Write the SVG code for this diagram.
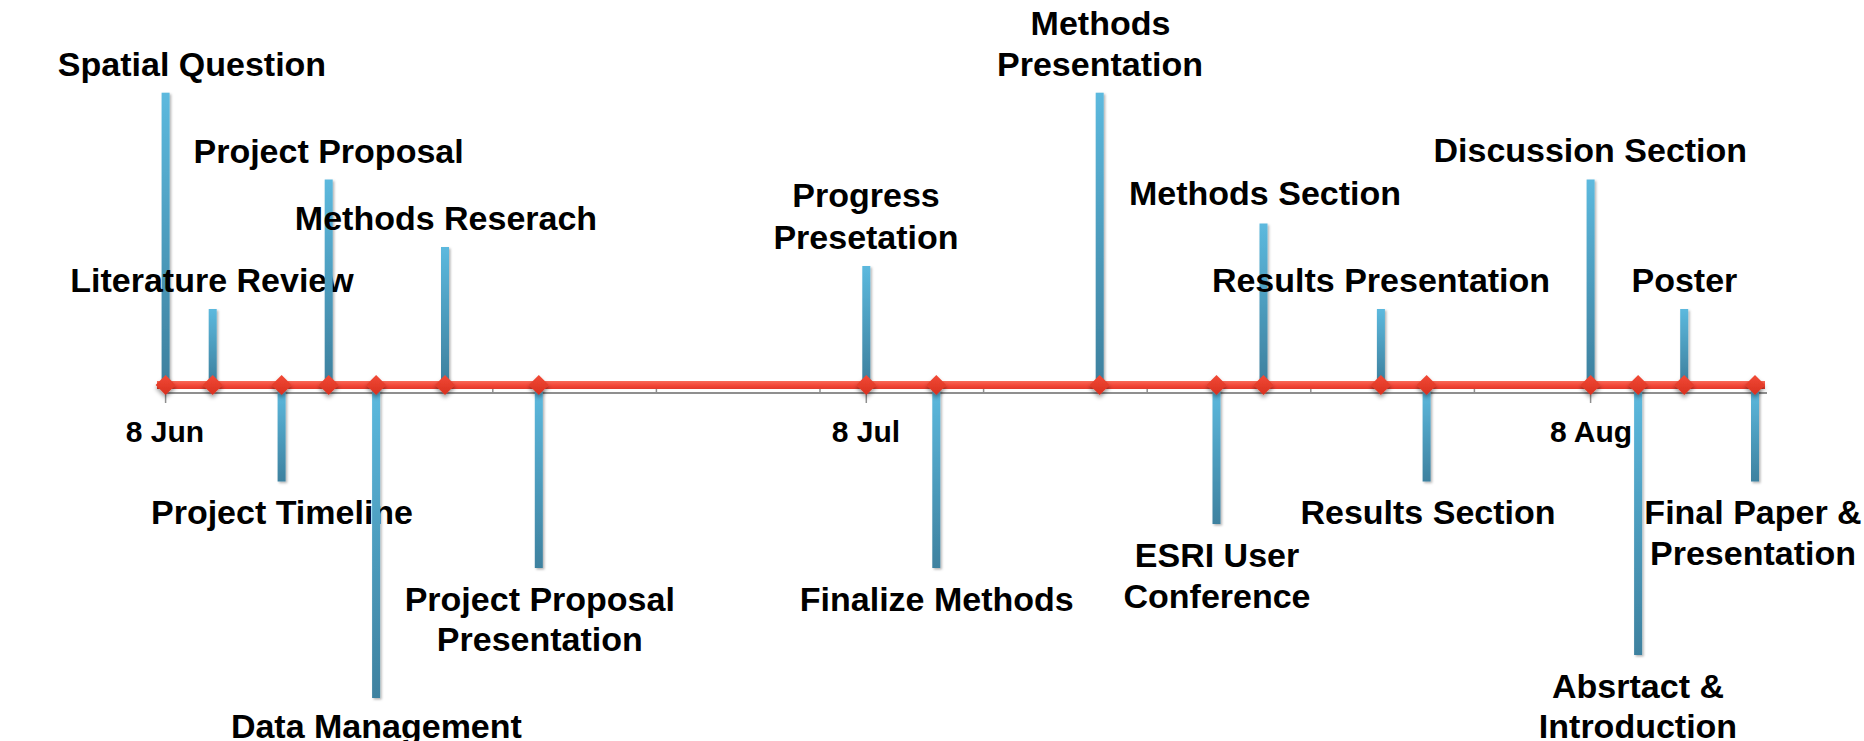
<svg xmlns="http://www.w3.org/2000/svg" width="1864" height="741" viewBox="0 0 1864 741">
  <style>
    .lbl { font-family: "Liberation Sans", Arial, sans-serif; font-weight: bold; font-size: 34px; fill: #000; text-anchor: middle; }
    .date { font-family: "Liberation Sans", Arial, sans-serif; font-weight: bold; font-size: 30px; fill: #000; text-anchor: middle; }
    .stem { fill: url(#stemGrad); filter: url(#stemShadow); }
    .mark { fill: url(#markGrad); filter: url(#markShadow); }
    .axis { stroke: #8f8f8f; stroke-width: 2; fill: none; }
    .tick { stroke: #8f8f8f; stroke-width: 1.5; }
  </style>
  <defs>
    <linearGradient id="stemGrad" x1="0" y1="0" x2="0" y2="1">
      <stop offset="0" stop-color="#5cb9de"/>
      <stop offset="1" stop-color="#3e819f"/>
    </linearGradient>
    <linearGradient id="lineGrad" x1="0" y1="0" x2="0" y2="1">
      <stop offset="0" stop-color="#f86a58"/>
      <stop offset="0.5" stop-color="#f4493a"/>
      <stop offset="1" stop-color="#e23828"/>
    </linearGradient>
    <linearGradient id="markGrad" x1="0" y1="0" x2="0" y2="1">
      <stop offset="0" stop-color="#f24a36"/>
      <stop offset="1" stop-color="#d8301f"/>
    </linearGradient>
    <filter id="stemShadow" x="-100%" y="-5%" width="300%" height="115%">
      <feDropShadow dx="1.5" dy="1.5" stdDeviation="1.2" flood-color="#000" flood-opacity="0.3"/>
    </filter>
    <filter id="markShadow" x="-50%" y="-50%" width="200%" height="220%">
      <feDropShadow dx="0" dy="3" stdDeviation="2" flood-color="#000" flood-opacity="0.4"/>
    </filter>
    <path id="diamond" d="M0,-10 L10,0 L0,10 L-10,0 Z"/>
  </defs>

  <rect width="1864" height="741" fill="#fff"/>

  <!-- date axis with weekly minor ticks and monthly major ticks -->
  <g id="connectors">
    <line class="axis" x1="165" y1="393" x2="1767" y2="393"/>
    <g class="tick">
      <line x1="329.2" y1="388" x2="329.2" y2="393"/>
      <line x1="492.8" y1="388" x2="492.8" y2="393"/>
      <line x1="656.4" y1="388" x2="656.4" y2="393"/>
      <line x1="820" y1="388" x2="820" y2="393"/>
      <line x1="983.6" y1="388" x2="983.6" y2="393"/>
      <line x1="1147.2" y1="388" x2="1147.2" y2="393"/>
      <line x1="1310.8" y1="388" x2="1310.8" y2="393"/>
      <line x1="1474.4" y1="388" x2="1474.4" y2="393"/>
      <line x1="1638" y1="388" x2="1638" y2="393"/>
      <line x1="165.6" y1="393" x2="165.6" y2="403"/>
      <line x1="866.3" y1="393" x2="866.3" y2="403"/>
      <line x1="1590.6" y1="393" x2="1590.6" y2="403"/>
    </g>
    <rect x="157" y="381" width="1608" height="8" fill="url(#lineGrad)"/>
  </g>

  <g id="axis-dates">
    <text class="date" x="165" y="442">8 Jun</text>
    <text class="date" x="866" y="442">8 Jul</text>
    <text class="date" x="1591" y="442">8 Aug</text>
  </g>

  <!-- milestones above the line -->
  <g id="spatial-question">
    <rect class="stem" x="161.6" y="92.7" width="8" height="288.3"/>
    <use href="#diamond" class="mark" x="165.6" y="385"/>
    <text class="lbl" x="192" y="76">Spatial Question</text>
  </g>
  <g id="literature-review">
    <rect class="stem" x="208.7" y="309" width="8" height="72"/>
    <use href="#diamond" class="mark" x="212.7" y="385"/>
    <text class="lbl" x="212" y="292">Literature Review</text>
  </g>
  <g id="project-proposal">
    <rect class="stem" x="324.7" y="179.5" width="8" height="201.5"/>
    <use href="#diamond" class="mark" x="328.7" y="385"/>
    <text class="lbl" x="328.6" y="162.5">Project Proposal</text>
  </g>
  <g id="methods-research">
    <rect class="stem" x="441" y="247" width="8" height="134"/>
    <use href="#diamond" class="mark" x="445" y="385"/>
    <text class="lbl" x="446" y="230">Methods Reserach</text>
  </g>
  <g id="progress-presentation">
    <rect class="stem" x="862.3" y="266" width="8" height="115"/>
    <use href="#diamond" class="mark" x="866.3" y="385"/>
    <text class="lbl" x="866" y="207">Progress</text>
    <text class="lbl" x="866" y="248.5">Presetation</text>
  </g>
  <g id="methods-presentation">
    <rect class="stem" x="1095.7" y="92.7" width="8" height="288.3"/>
    <use href="#diamond" class="mark" x="1099.7" y="385"/>
    <text class="lbl" x="1100.5" y="34.5">Methods</text>
    <text class="lbl" x="1100" y="75.5">Presentation</text>
  </g>
  <g id="methods-section">
    <rect class="stem" x="1259.5" y="223.5" width="8" height="157.5"/>
    <use href="#diamond" class="mark" x="1263.5" y="385"/>
    <text class="lbl" x="1265" y="204.5">Methods Section</text>
  </g>
  <g id="results-presentation">
    <rect class="stem" x="1376.9" y="309" width="8" height="72"/>
    <use href="#diamond" class="mark" x="1380.9" y="385"/>
    <text class="lbl" x="1381" y="291.5">Results Presentation</text>
  </g>
  <g id="discussion-section">
    <rect class="stem" x="1586.6" y="179.5" width="8" height="201.5"/>
    <use href="#diamond" class="mark" x="1590.6" y="385"/>
    <text class="lbl" x="1590.3" y="162">Discussion Section</text>
  </g>
  <g id="poster">
    <rect class="stem" x="1680.2" y="309" width="8" height="72"/>
    <use href="#diamond" class="mark" x="1684.2" y="385"/>
    <text class="lbl" x="1684.4" y="291.5">Poster</text>
  </g>

  <!-- milestones below the line -->
  <g id="project-timeline">
    <rect class="stem" x="277.6" y="389" width="8" height="92.5"/>
    <use href="#diamond" class="mark" x="281.6" y="385"/>
    <text class="lbl" x="282" y="524">Project Timeline</text>
  </g>
  <g id="data-management">
    <rect class="stem" x="372.1" y="389" width="8" height="309"/>
    <use href="#diamond" class="mark" x="376.1" y="385"/>
    <text class="lbl" x="376.4" y="738">Data Management</text>
  </g>
  <g id="project-proposal-presentation">
    <rect class="stem" x="534.8" y="389" width="8" height="179"/>
    <use href="#diamond" class="mark" x="538.8" y="385"/>
    <text class="lbl" x="539.8" y="610.5">Project Proposal</text>
    <text class="lbl" x="539.8" y="651">Presentation</text>
  </g>
  <g id="finalize-methods">
    <rect class="stem" x="932.3" y="389" width="8" height="179"/>
    <use href="#diamond" class="mark" x="936.3" y="385"/>
    <text class="lbl" x="936.8" y="610.5">Finalize Methods</text>
  </g>
  <g id="esri-user-conference">
    <rect class="stem" x="1212.5" y="389" width="8" height="135"/>
    <use href="#diamond" class="mark" x="1216.5" y="385"/>
    <text class="lbl" x="1217" y="566.5">ESRI User</text>
    <text class="lbl" x="1217" y="607.5">Conference</text>
  </g>
  <g id="results-section">
    <rect class="stem" x="1422.6" y="389" width="8" height="92.5"/>
    <use href="#diamond" class="mark" x="1426.6" y="385"/>
    <text class="lbl" x="1428" y="524">Results Section</text>
  </g>
  <g id="abstract-introduction">
    <rect class="stem" x="1634.1" y="389" width="8" height="266"/>
    <use href="#diamond" class="mark" x="1638.1" y="385"/>
    <text class="lbl" x="1638" y="697.5">Absrtact &amp;</text>
    <text class="lbl" x="1638" y="738">Introduction</text>
  </g>
  <g id="final-paper-presentation">
    <rect class="stem" x="1751" y="389" width="8" height="92.5"/>
    <use href="#diamond" class="mark" x="1755" y="385"/>
    <text class="lbl" x="1753" y="524">Final Paper &amp;</text>
    <text class="lbl" x="1753" y="565">Presentation</text>
  </g>
</svg>
